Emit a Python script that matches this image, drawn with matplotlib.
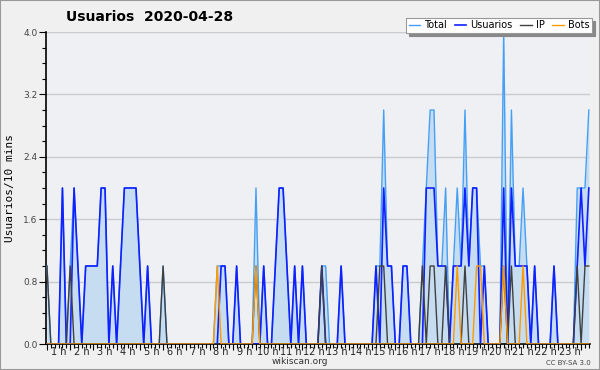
import matplotlib
matplotlib.use("Agg")
import matplotlib.pyplot as plt
import numpy as np

# 10-minute slots (index 0 = 00:00)
usuarios = [0,0,0,0,2,0,0,2,1,0, 1,1,1,1,2,2,0,1,0,1, 2,2,2,2,1,0,1,0,0,0,
            0,0,0,0,0,0,0,0,0,0, 0,0,0,0,0,1,1,0,0,1, 0,0,0,0,0,0,1,0,0,1,
            2,2,1,0,1,0,1,0,0,0, 0,1,0,0,0,0,1,0,0,0, 0,0,0,0,0,1,0,2,1,1,
            0,0,1,1,0,0,0,0,2,2, 2,1,1,1,0,1,1,1,2,1, 2,2,0,1,0,0,0,0,2,0,
            2,1,1,1,1,0,1,0,0,0, 0,1,0,0,0,0,0,1,2,1, 2]
ip =       [1,0,0,0,0,0,1,0,0,0, 0,0,0,0,0,0,0,0,0,0, 0,0,0,0,0,0,0,0,0,0,
            1,0,0,0,0,0,0,0,0,0, 0,0,0,0,0,0,0,0,0,0, 0,0,0,0,1,0,0,0,0,0,
            0,0,0,0,0,0,0,0,0,0, 0,1,0,0,0,0,0,0,0,0, 0,0,0,0,0,0,1,1,0,0,
            0,0,0,0,0,0,0,1,0,1, 1,0,0,1,0,0,0,0,1,0, 0,0,0,0,0,0,0,0,1,0,
            1,0,0,0,0,0,0,0,0,0, 0,0,0,0,0,0,0,1,0,1, 1]
bots =     [0,0,0,0,0,0,0,0,0,0, 0,0,0,0,0,0,0,0,0,0, 0,0,0,0,0,0,0,0,0,0,
            0,0,0,0,0,0,0,0,0,0, 0,0,0,0,1,0,0,0,0,0, 0,0,0,0,1,0,0,0,0,0,
            0,0,0,0,0,0,0,0,0,0, 0,0,0,0,0,0,0,0,0,0, 0,0,0,0,0,0,0,0,0,0,
            0,0,0,0,0,0,0,0,0,0, 0,0,0,0,0,0,1,0,0,0, 0,1,1,0,0,0,0,0,1,0,
            0,0,0,1,0,0,0,0,0,0, 0,0,0,0,0,0,0,0,0,0, 0]
total =    [1,0,0,0,2,0,1,2,1,0, 1,1,1,1,2,2,0,1,0,1, 2,2,2,2,1,0,1,0,0,0,
            1,0,0,0,0,0,0,0,0,0, 0,0,0,0,1,1,1,0,0,1, 0,0,0,0,2,0,1,0,0,1,
            2,2,1,0,1,0,1,0,0,0, 0,1,1,0,0,0,1,0,0,0, 0,0,0,0,0,1,1,3,1,1,
            0,0,1,1,0,0,0,1,2,3, 3,1,1,2,0,1,2,1,3,1, 2,2,1,1,0,0,0,0,4,0,
            3,1,1,2,1,0,1,0,0,0, 0,1,0,0,0,0,0,2,2,2, 3]

hour_labels = [f"{h} h" for h in range(1, 24)]
y_ticks = [0.0, 0.8, 1.6, 2.4, 3.2, 4.0]

x = np.arange(len(total))

fig = plt.figure(figsize=(6, 3.7), dpi=100, facecolor="#f0f0f0")
ax = fig.add_axes([46/600, 26/370, 544/600, 312/370])
ax.set_facecolor("#eef0f3")

ax.fill_between(x, 0, total, color="#c6dcf0", lw=0, zorder=1)
ax.plot(x, total, color="#45a0f5", lw=1.0, label="Total", zorder=3)
ax.plot(x, usuarios, color="#1020ff", lw=1.2, label="Usuarios", zorder=4)
ax.plot(x, ip, color="#404040", lw=1.0, label="IP", zorder=5)
ax.plot(x, bots, color="#ff9900", lw=1.0, label="Bots", zorder=6)

ax.set_xlim(-0.25, 140.3)
ax.set_ylim(0, 4.0)

for v in y_ticks[1:]:
    ax.axhline(v, color="#cccccc", lw=1, zorder=0.5)

ax.set_yticks(y_ticks)
ax.set_yticklabels([f"{v:.1f}" for v in y_ticks])
ax.set_yticks(np.arange(0, 4.01, 0.2), minor=True)
ax.tick_params(axis="y", which="major", length=5, width=0.8, labelsize=6.5,
               labelcolor="#444444", pad=1)
ax.tick_params(axis="y", which="minor", length=3, width=0.8)

ax.set_xticks(np.arange(0, 141, 6))
ax.set_xticklabels([])
ax.set_xticks(np.arange(0, 141, 1), minor=True)
ax.tick_params(axis="x", which="major", length=4, width=0.8, direction="out")
ax.tick_params(axis="x", which="minor", length=3, width=0.8, direction="out")
for h, lab in zip(range(1, 24), hour_labels):
    ax.text(6*h - 3, -0.01, lab, ha="center", va="top", fontsize=7,
            color="#222222", transform=ax.get_xaxis_transform())

for s in ["top", "right"]:
    ax.spines[s].set_visible(False)
ax.spines["left"].set_linewidth(1.2)
ax.spines["bottom"].set_linewidth(1.2)

ax.set_ylabel("Usuarios/10 mins", family="DejaVu Sans Mono", fontsize=8, labelpad=6)

fig.text(0.25, 0.955, "Usuarios  2020-04-28", ha="center", va="center",
         fontsize=10, fontweight="bold")
fig.text(0.5, 0.024, "wikiscan.org", ha="center", va="center", fontsize=6.5,
         color="#333333")
fig.text(0.985, 0.02, "CC BY-SA 3.0", ha="right", va="center", fontsize=5,
         color="#444444")

leg = ax.legend(loc="upper right", bbox_to_anchor=(592/600, 352/370),
                bbox_transform=fig.transFigure, ncol=4, fontsize=7,
                frameon=True, fancybox=False, shadow={"color": "#888888", "alpha": 1},
                handlelength=1.2, handletextpad=0.4, columnspacing=0.8,
                borderpad=0.25, borderaxespad=0)
leg.get_frame().set_edgecolor("#999999")
leg.get_frame().set_linewidth(0.8)

fig.patches.append(plt.Rectangle((0, 0), 1, 1, transform=fig.transFigure,
                                 fill=False, edgecolor="#999999", lw=1.5))

fig.savefig("out.png", dpi=100, facecolor=fig.get_facecolor())
